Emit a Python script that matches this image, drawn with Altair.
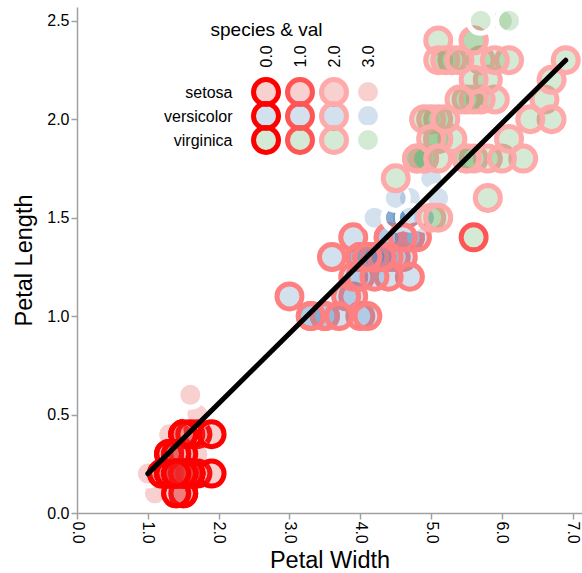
import altair as alt
import pandas as pd

# ---------------- data (iris) ----------------
species_names = ["setosa", "versicolor", "virginica"]

setosa_length = [1.4, 1.4, 1.3, 1.5, 1.4, 1.7, 1.4, 1.5, 1.4, 1.5,
                 1.5, 1.6, 1.4, 1.1, 1.2, 1.5, 1.3, 1.4, 1.7, 1.5,
                 1.7, 1.5, 1.0, 1.7, 1.9, 1.6, 1.6, 1.5, 1.4, 1.6,
                 1.6, 1.5, 1.5, 1.4, 1.5, 1.2, 1.3, 1.4, 1.3, 1.5,
                 1.3, 1.3, 1.3, 1.6, 1.9, 1.4, 1.6, 1.4, 1.5, 1.4]
setosa_width = [0.2, 0.2, 0.2, 0.2, 0.2, 0.4, 0.3, 0.2, 0.2, 0.1,
                0.2, 0.2, 0.1, 0.1, 0.2, 0.4, 0.4, 0.3, 0.3, 0.3,
                0.2, 0.4, 0.2, 0.5, 0.2, 0.2, 0.4, 0.2, 0.2, 0.2,
                0.2, 0.4, 0.1, 0.2, 0.2, 0.2, 0.2, 0.1, 0.2, 0.2,
                0.3, 0.3, 0.2, 0.6, 0.4, 0.3, 0.2, 0.2, 0.2, 0.2]
setosa_val = [0, 0, 0, 0, 0, 0, 0, 0, 0, 0,
              0, 0, 0, 3, 0, 0, 3, 0, 3, 0,
              0, 0, 3, 3, 0, 0, 0, 0, 0, 0,
              0, 0, 0, 0, 0, 0, 0, 0, 0, 0,
              0, 0, 0, 3, 0, 0, 0, 0, 0, 0]

versicolor_length = [4.7, 4.5, 4.9, 4.0, 4.6, 4.5, 4.7, 3.3, 4.6, 3.9,
                     3.5, 4.2, 4.0, 4.7, 3.6, 4.4, 4.5, 4.1, 4.5, 3.9,
                     4.8, 4.0, 4.9, 4.7, 4.3, 4.4, 4.8, 5.0, 4.5, 3.5,
                     3.8, 3.7, 3.9, 5.1, 4.5, 4.5, 4.7, 4.4, 4.1, 4.0,
                     4.4, 4.6, 4.0, 3.3, 4.2, 4.2, 4.2, 4.3, 3.0, 4.1]
versicolor_width = [1.4, 1.5, 1.5, 1.3, 1.5, 1.3, 1.6, 1.0, 1.3, 1.4,
                    1.0, 1.5, 1.0, 1.4, 1.3, 1.4, 1.5, 1.0, 1.5, 1.1,
                    1.8, 1.3, 1.5, 1.2, 1.3, 1.4, 1.4, 1.7, 1.5, 1.0,
                    1.1, 1.0, 1.2, 1.6, 1.5, 1.6, 1.5, 1.3, 1.3, 1.3,
                    1.2, 1.4, 1.2, 1.0, 1.3, 1.2, 1.3, 1.3, 1.1, 1.3]
versicolor_val = [1.5, 3, 3, 1.5, 3, 1.5, 3, 1.5, 1.5, 1.5,
                  1.5, 3, 1.5, 1.5, 1.5, 1.5, 3, 1.5, 3, 1.5,
                  3, 1.5, 3, 1.5, 1.5, 1.5, 1.5, 3, 3, 1.5,
                  1.5, 1.5, 1.5, 3, 3, 3, 3, 1.5, 1.5, 1.5,
                  1.5, 1.5, 1.5, 1.5, 1.5, 1.5, 1.5, 1.5, 1.5, 1.5]

virginica_length = [6.0, 5.1, 5.9, 5.6, 5.8, 6.6, 4.5, 6.3, 5.8, 6.1,
                    5.1, 5.3, 5.5, 5.0, 5.1, 5.3, 5.5, 6.7, 6.9, 5.0,
                    5.7, 4.9, 6.7, 4.9, 5.7, 6.0, 4.8, 4.9, 5.6, 5.8,
                    6.1, 6.4, 5.6, 5.1, 5.6, 6.1, 5.6, 5.5, 4.8, 5.4,
                    5.6, 5.1, 5.1, 5.9, 5.7, 5.2, 5.0, 5.2, 5.4, 5.1]
virginica_width = [2.5, 1.9, 2.1, 1.8, 2.2, 2.1, 1.7, 1.8, 1.8, 2.5,
                   2.0, 1.9, 2.1, 2.0, 2.4, 2.3, 1.8, 2.2, 2.3, 1.5,
                   2.3, 2.0, 2.0, 1.8, 2.1, 1.8, 1.8, 1.8, 2.1, 1.6,
                   1.9, 2.0, 2.2, 1.5, 1.4, 2.3, 2.4, 1.8, 1.8, 2.1,
                   2.4, 2.3, 1.9, 2.3, 2.5, 2.3, 1.9, 2.0, 2.3, 1.8]
virginica_val = [3, 2, 2, 2, 2, 2, 2, 2, 2, 3,
                 2, 2, 2, 2, 2, 2, 2, 2, 2, 2,
                 2, 2, 2, 2, 2, 2, 2, 2, 2, 2,
                 2, 2, 2, 2, 1, 2, 2, 2, 2, 2,
                 2, 2, 2, 2, 3, 2, 2, 2, 2, 2]

line_x = [1.0, 6.9]
line_y = [0.2, 2.3]

legend_vals = [0.0, 1.0, 2.0, 3.0]
x_ticks = [0, 1, 2, 3, 4, 5, 6, 7]
y_ticks = [0.0, 0.5, 1.0, 1.5, 2.0, 2.5]

# ---------------- tables ----------------
df = pd.DataFrame({
    "petal_length": setosa_length + versicolor_length + virginica_length,
    "petal_width": setosa_width + versicolor_width + virginica_width,
    "species": ["setosa"] * len(setosa_length) + ["versicolor"] * len(versicolor_length)
               + ["virginica"] * len(virginica_length),
    "val": setosa_val + versicolor_val + virginica_val,
})
line_df = pd.DataFrame({"petal_length": line_x, "petal_width": line_y})
legend_df = pd.DataFrame(
    [{"species": s, "val": v, "val_label": f"{v:.1f}"} for s in species_names for v in legend_vals]
)

FONT = "Liberation Sans"
AXIS_GRAY = "#a0a0a0"

fill_scale = alt.Scale(domain=species_names, range=["#e34343", "#4f87bf", "#57ab53"])
stroke_scale = alt.Scale(domain=[0, 3], range=["#ff0000", "#ffffff"], interpolate="rgb")

point_mark = dict(shape="circle", filled=True, size=625, strokeWidth=5,
                  fillOpacity=0.25, strokeOpacity=1, opacity=1)

x_enc = alt.X("petal_length:Q",
              scale=alt.Scale(domain=[0, 7.13], nice=False, zero=False),
              axis=alt.Axis(values=x_ticks, format=".1f", labelAngle=90, title="Petal Width",
                            titlePadding=5, labelPadding=2, tickSize=6))
y_enc = alt.Y("petal_width:Q",
              scale=alt.Scale(domain=[0, 2.57], nice=False, zero=False),
              axis=alt.Axis(values=y_ticks, format=".1f", title="Petal Length",
                            titlePadding=10, labelPadding=2, tickSize=6))

points = alt.Chart(df).mark_point(**point_mark).encode(
    x=x_enc,
    y=y_enc,
    fill=alt.Fill("species:N", scale=fill_scale, legend=None),
    stroke=alt.Stroke("val:Q", scale=stroke_scale, legend=None),
)

line = alt.Chart(line_df).mark_line(color="black", strokeWidth=5, strokeCap="round").encode(
    x=x_enc,
    y=y_enc,
)

main = alt.layer(points, line)

legend = alt.Chart(legend_df).mark_point(**point_mark).encode(
    x=alt.X("val_label:O", sort=[f"{v:.1f}" for v in legend_vals],
            scale=alt.Scale(range=[189, 291], padding=0),
            axis=alt.Axis(orient="top", offset=-62, domain=False, ticks=False, tickSize=0,
                          labelPadding=2, labelAngle=270, labelFontSize=16,
                          title="species & val", titleFontSize=19, titleX=189,
                          titlePadding=5)),
    y=alt.Y("species:N", sort=species_names,
            scale=alt.Scale(range=[85, 133], padding=0),
            axis=alt.Axis(orient="left", offset=-158, domain=False, ticks=False, tickSize=0,
                          labelPadding=3, labelFontSize=16, title=None)),
    fill=alt.Fill("species:N", scale=fill_scale, legend=None),
    stroke=alt.Stroke("val:Q", scale=stroke_scale, legend=None),
)

chart = alt.layer(main, legend).resolve_scale(
    x="independent", y="independent"
).properties(
    width=505,
    height=506,
    autosize=alt.AutoSizeParams(type="none"),
    padding={"left": 77, "top": 7, "right": 0, "bottom": 60},
).configure_view(
    strokeWidth=0
).configure_axis(
    grid=False,
    domainColor=AXIS_GRAY,
    tickColor=AXIS_GRAY,
    domainWidth=1.5,
    tickWidth=1.5,
    labelColor="black",
    titleColor="black",
    labelFont=FONT,
    titleFont=FONT,
    labelFontSize=16,
    titleFontSize=23.5,
    titleFontWeight="normal",
)

chart.save("out.html", embed_options={"renderer": "svg", "actions": False})
